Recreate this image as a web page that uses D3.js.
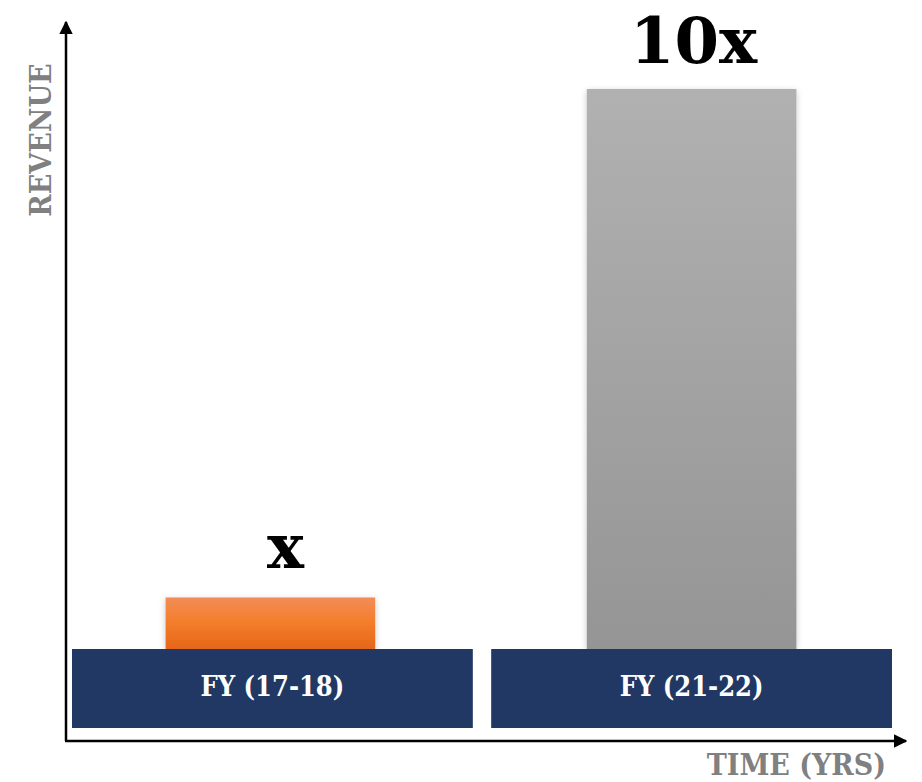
<!DOCTYPE html>
<html>
<head>
<meta charset="utf-8">
<script src="https://cdn.jsdelivr.net/npm/d3@7"></script>
<style>
  body { margin: 0; background: #fff; }
  svg { display: block; }
</style>
</head>
<body>
<div id="graphic"></div>
<script>
// data
const periods = ["FY (17-18)", "FY (21-22)"];
const revenue = [0.92, 10];
const barLabels = ["x", "10x"];

const width = 922;
const height = 782;
const serif = "'DejaVu Serif', 'Liberation Serif', serif";
const serifC = "'DejaVu Serif Condensed', 'DejaVu Serif', serif";

const svg = d3.select("#graphic").append("svg")
    .attr("width", width)
    .attr("height", height);

const defs = svg.append("defs");

const orangeGrad = defs.append("linearGradient")
    .attr("id", "orangeGrad").attr("x1", 0).attr("y1", 0).attr("x2", 0).attr("y2", 1);
orangeGrad.append("stop").attr("offset", "0%").attr("stop-color", "#f28c58");
orangeGrad.append("stop").attr("offset", "45%").attr("stop-color", "#f47f2c");
orangeGrad.append("stop").attr("offset", "100%").attr("stop-color", "#e6661a");

const grayGrad = defs.append("linearGradient")
    .attr("id", "grayGrad").attr("x1", 0).attr("y1", 0).attr("x2", 0).attr("y2", 1);
grayGrad.append("stop").attr("offset", "0%").attr("stop-color", "#b1b1b1");
grayGrad.append("stop").attr("offset", "100%").attr("stop-color", "#959595");

const shadow = defs.append("filter").attr("id", "shadow")
    .attr("x", "-10%").attr("y", "-10%").attr("width", "120%").attr("height", "130%");
shadow.append("feDropShadow")
    .attr("dx", 0).attr("dy", 2).attr("stdDeviation", 3)
    .attr("flood-color", "#000").attr("flood-opacity", 0.22);

const marker = defs.append("marker")
    .attr("id", "arrow")
    .attr("viewBox", "0 0 10 10")
    .attr("refX", 9).attr("refY", 5)
    .attr("markerWidth", 5.5).attr("markerHeight", 5.5)
    .attr("markerUnits", "strokeWidth")
    .attr("orient", "auto");
marker.append("path").attr("d", "M0,0L10,5L0,10Z").attr("fill", "#000");

// scales
const x = d3.scaleBand()
    .domain(periods)
    .range([72, 892])
    .paddingInner(0.0438)
    .paddingOuter(0);

const baseY = 649;
const y = d3.scaleLinear()
    .domain([0, 10])
    .range([baseY, 89]);

const barW = x.bandwidth() * 0.523;
const fills = ["url(#orangeGrad)", "url(#grayGrad)"];

// axes
svg.append("line")
    .attr("x1", 66).attr("y1", 741).attr("x2", 66).attr("y2", 22)
    .attr("stroke", "#000").attr("stroke-width", 2.5)
    .attr("marker-end", "url(#arrow)");

svg.append("line")
    .attr("x1", 65).attr("y1", 741).attr("x2", 906).attr("y2", 741)
    .attr("stroke", "#000").attr("stroke-width", 2.5)
    .attr("marker-end", "url(#arrow)");

svg.append("text")
    .attr("transform", "translate(51,140) rotate(-90)")
    .attr("text-anchor", "middle")
    .attr("fill", "#808080")
    .style("font", `bold 30px ${serifC}`)
    .text("REVENUE");

svg.append("text")
    .attr("x", 886).attr("y", 775)
    .attr("text-anchor", "end")
    .attr("fill", "#808080")
    .style("font", `bold 30px ${serifC}`)
    .text("TIME (YRS)");

// bars
svg.append("g")
    .selectAll("rect")
    .data(revenue)
    .join("rect")
    .attr("x", (d, i) => x(periods[i]) + x.bandwidth() / 2 - barW / 2 - (i === 0 ? 2 : 0))
    .attr("y", d => y(d))
    .attr("width", barW)
    .attr("height", d => baseY - y(d))
    .attr("fill", (d, i) => fills[i])
    .attr("filter", "url(#shadow)");

// category boxes
const box = svg.append("g")
    .selectAll("g")
    .data(periods)
    .join("g");

box.append("rect")
    .attr("x", d => x(d))
    .attr("y", baseY)
    .attr("width", x.bandwidth())
    .attr("height", 79)
    .attr("fill", "#213864");

box.append("text")
    .attr("x", d => x(d) + x.bandwidth() / 2)
    .attr("y", 696)
    .attr("text-anchor", "middle")
    .attr("fill", "#fff")
    .style("font", `bold 27px ${serifC}`)
    .text(d => d);

// value labels
svg.append("g")
    .selectAll("text")
    .data(revenue)
    .join("text")
    .attr("x", (d, i) => x(periods[i]) + x.bandwidth() / 2 + (i === 0 ? 13 : 2))
    .attr("y", (d, i) => y(d) - (i === 0 ? 29 : 26))
    .attr("text-anchor", "middle")
    .attr("fill", "#000")
    .style("font", (d, i) => `bold ${i === 0 ? 62 : 64}px ${serif}`)
    .text((d, i) => barLabels[i]);
</script>
</body>
</html>
